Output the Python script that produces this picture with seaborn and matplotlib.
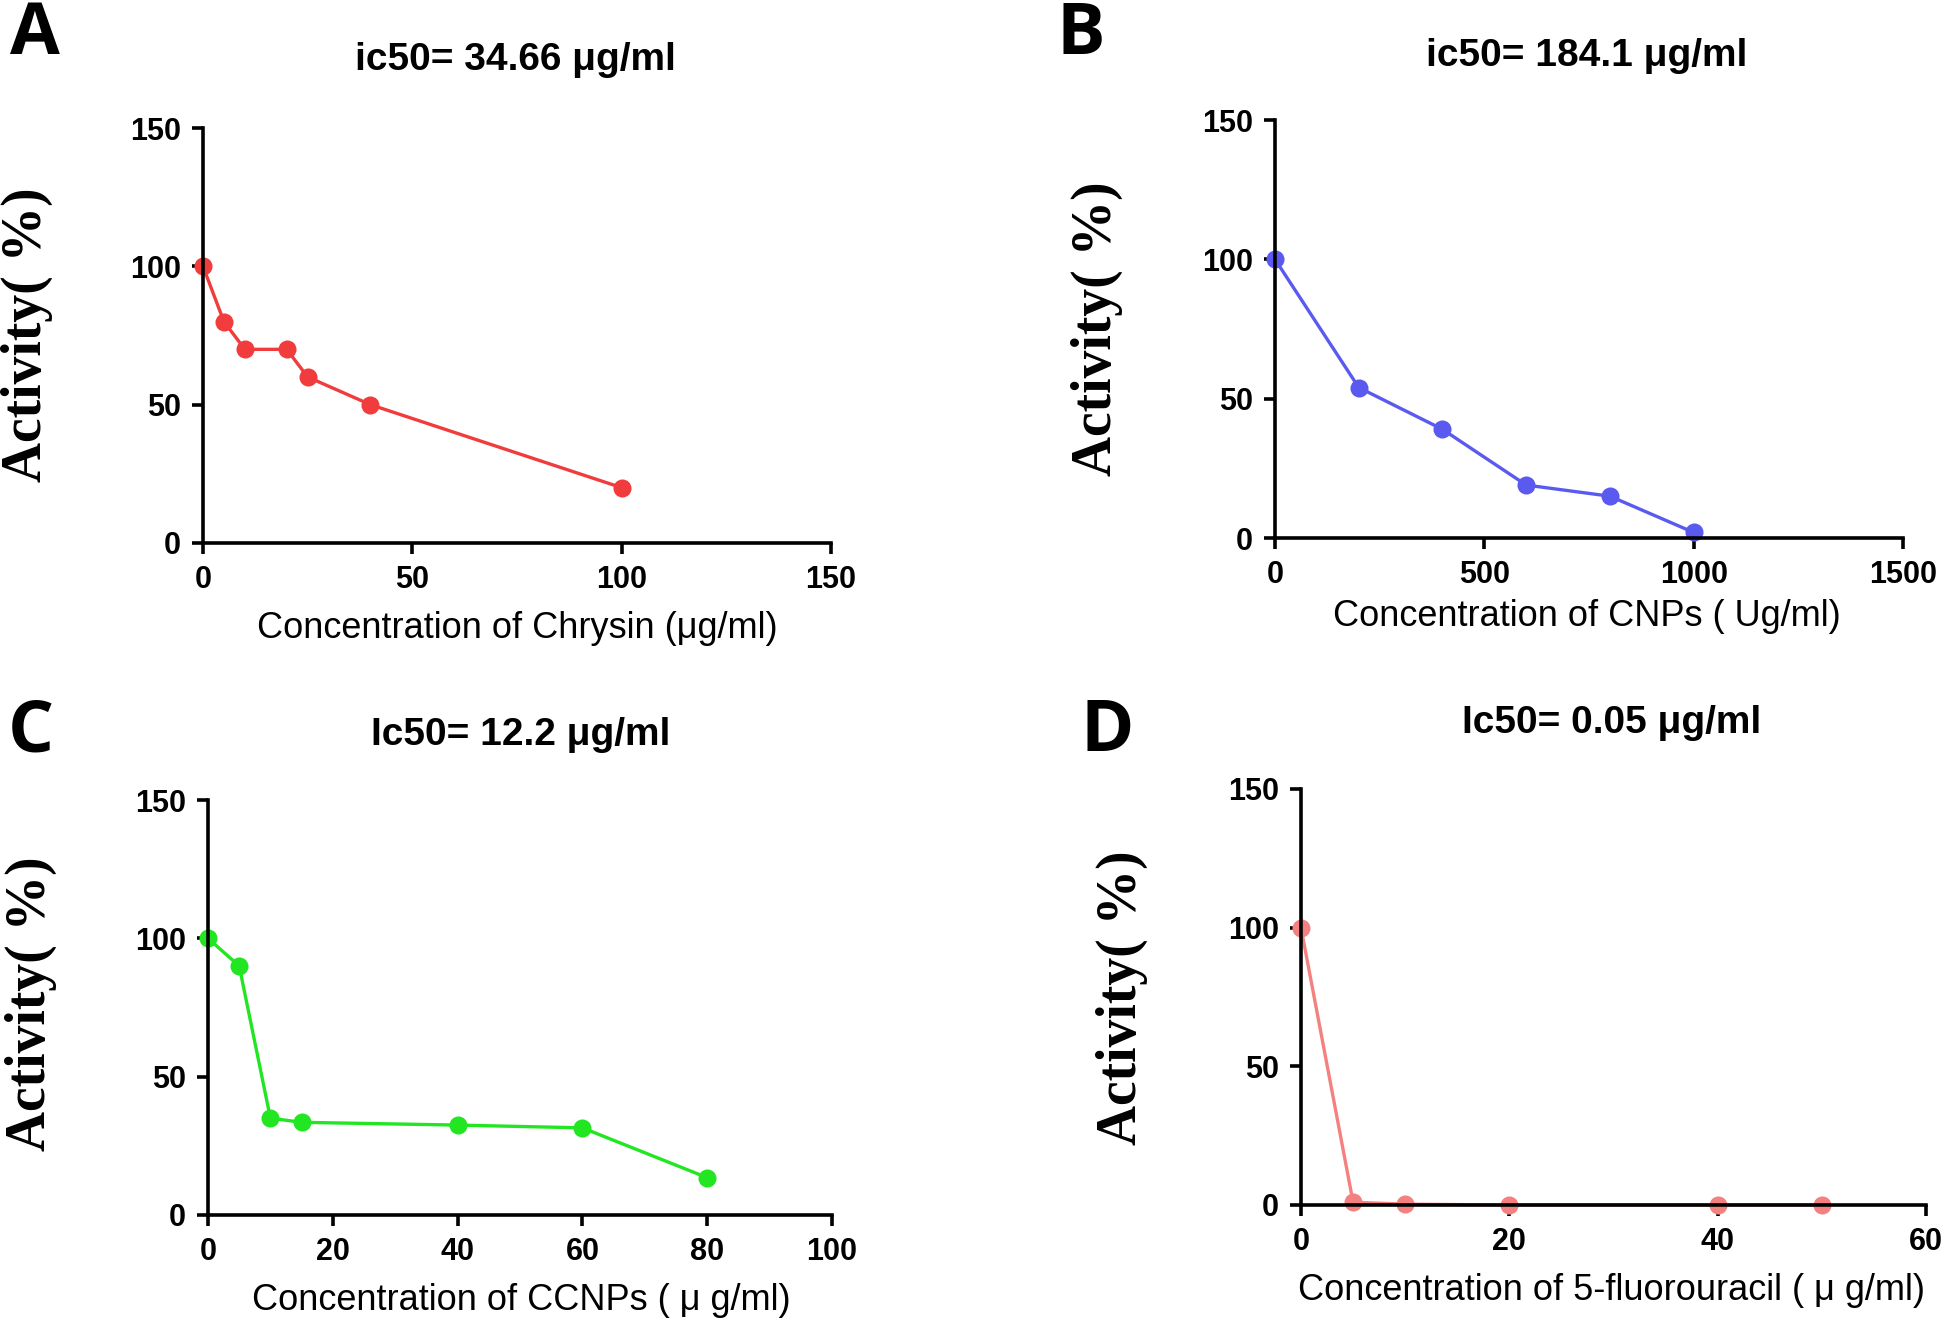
import numpy as np
import matplotlib
matplotlib.use("Agg")
import matplotlib.pyplot as plt
import seaborn as sns

# data
chrysin_conc = [0, 5, 10, 20, 25, 40, 100]
chrysin_act = [100, 80, 70, 70, 60, 50, 20]

cnp_conc = [0, 200, 400, 600, 800, 1000]
cnp_act = [100, 54, 39, 19, 15, 2]

ccnp_conc = [0, 5, 10, 15, 40, 60, 80]
ccnp_act = [100, 90, 35, 33.5, 32.5, 31.5, 13.5]

fu_conc = [0, 5, 10, 20, 40, 50]
fu_act = [100, 1, 0.3, 0, 0, 0]

titles = ["ic50= 34.66 μg/ml", "ic50= 184.1 μg/ml", "Ic50= 12.2 μg/ml", "Ic50= 0.05 μg/ml"]
xlabels = ["Concentration of Chrysin (μg/ml)", "Concentration of CNPs ( Ug/ml)",
           "Concentration of CCNPs ( μ g/ml)", "Concentration of 5-fluorouracil ( μ g/ml)"]
letters = ["A", "B", "C", "D"]
xticks = [[0, 50, 100, 150], [0, 500, 1000, 1500], [0, 20, 40, 60, 80, 100], [0, 20, 40, 60]]
yticks = [0, 50, 100, 150]
colors = ["#f03c3c", "#5a5af0", "#22e622", "#f58080"]

sns.set_style("ticks")
sans = ["Liberation Sans", "DejaVu Sans"]
plt.rcParams["font.family"] = sans
plt.rcParams["text.color"] = "black"
plt.rcParams["xtick.color"] = "black"
plt.rcParams["ytick.color"] = "black"

W, H = 1944, 1320
fig = plt.figure(figsize=(W / 100, H / 100), dpi=100)

# axes boxes in pixels: left, right, bottom(y of 0), top(y of max)
boxes = [(203, 831, 543, 128), (1275, 1903, 538, 120), (208, 832, 1215, 800), (1301, 1926, 1205, 789)]
title_pos = [(515, 60), (1587, 56), (521, 735), (1612, 723)]
letter_pos = [(35, 35), (1081, 35), (31, 732), (1107, 732)]
ylab_pos = [(27, 335), (1097, 329), (31, 1004), (1122, 998)]
xlab_pos = [(517, 629), (1587, 616), (521, 1300), (1612, 1290)]

series = [(chrysin_conc, chrysin_act), (cnp_conc, cnp_act), (ccnp_conc, ccnp_act), (fu_conc, fu_act)]

for i, (xs, ys) in enumerate(series):
    l, r, b, t = boxes[i]
    ax = fig.add_axes([l / W, 1 - b / H, (r - l) / W, (b - t) / H])
    sns.lineplot(x=xs, y=ys, ax=ax, color=colors[i], marker="o", markersize=13,
                 markeredgewidth=0, linewidth=2.4)
    ax.set_xlim(xticks[i][0], xticks[i][-1])
    ax.set_ylim(0, 150)
    ax.set_xticks(xticks[i])
    ax.set_yticks(yticks)
    for sp in ["top", "right"]:
        ax.spines[sp].set_visible(False)
    for sp in ["left", "bottom"]:
        ax.spines[sp].set_linewidth(2.6)
        ax.spines[sp].set_color("black")
    ax.tick_params(axis="both", length=8, width=2.6, labelsize=22, pad=8)
    for lab in ax.get_xticklabels() + ax.get_yticklabels():
        lab.set_fontweight("bold")
    for ln in ax.lines:
        ln.set_clip_on(False)

    fig.text(title_pos[i][0] / W, 1 - title_pos[i][1] / H, titles[i], ha="center", va="center",
             fontsize=28, fontweight="bold")
    fig.text(letter_pos[i][0] / W, 1 - letter_pos[i][1] / H, letters[i], ha="center", va="center",
             fontsize=52, fontweight="bold", family=["Open Sans", "DejaVu Sans"])
    fig.text(ylab_pos[i][0] / W, 1 - ylab_pos[i][1] / H, "Activity( %)", ha="center", va="center",
             rotation=90, fontsize=40, fontweight="bold", family=["Liberation Serif", "DejaVu Serif"])
    fig.text(xlab_pos[i][0] / W, 1 - xlab_pos[i][1] / H, xlabels[i], ha="center", va="center",
             fontsize=26)

fig.savefig("out.png", dpi=100)
